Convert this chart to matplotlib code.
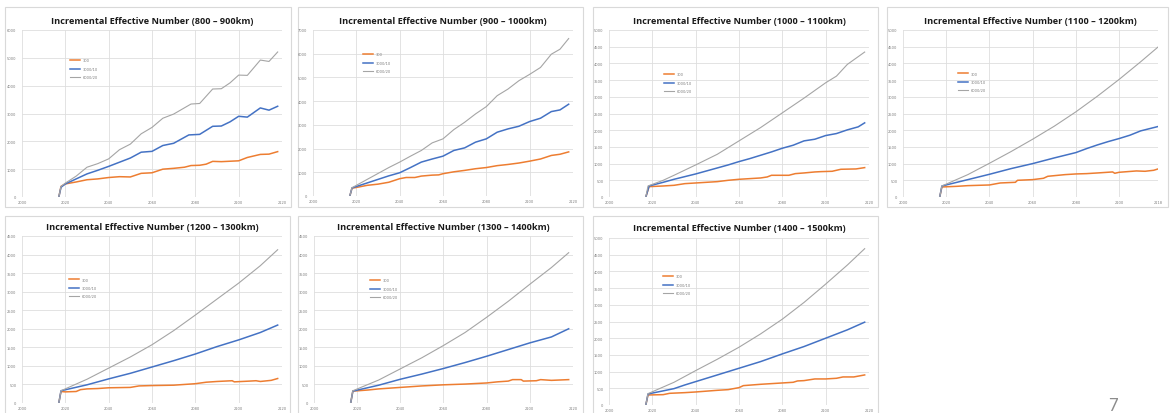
import matplotlib
matplotlib.use("Agg")
import matplotlib.pyplot as plt
from matplotlib.patches import Rectangle

W, H = 1172, 414

series_labels = ["300", "3000/10", "6000/20"]
colors = ["#ED7D31", "#4472C4", "#A5A5A5"]
widths = [1.1, 1.1, 0.8]

# (year, value) pairs
p1_300 = [(2017, 0), (2018, 380), (2020, 470), (2025, 540), (2030, 620), (2035, 650), (2040, 700), (2045, 730),
          (2050, 720), (2055, 850), (2060, 870), (2065, 1000), (2070, 1030), (2075, 1070), (2078, 1130), (2082, 1140),
          (2085, 1180), (2088, 1280), (2092, 1270), (2100, 1300), (2104, 1420), (2110, 1530), (2114, 1540), (2118, 1630)]
p1_3000 = [(2017, 0), (2018, 350), (2020, 470), (2025, 650), (2030, 830), (2035, 960), (2040, 1100), (2045, 1250),
           (2050, 1400), (2055, 1610), (2060, 1640), (2065, 1850), (2070, 1930), (2077, 2230), (2082, 2250),
           (2088, 2540), (2092, 2550), (2096, 2700), (2100, 2900), (2104, 2870), (2110, 3200), (2114, 3120), (2118, 3260)]
p1_6000 = [(2017, 0), (2018, 380), (2020, 500), (2025, 750), (2030, 1070), (2035, 1200), (2040, 1370), (2045, 1700),
           (2050, 1900), (2055, 2270), (2060, 2500), (2065, 2830), (2070, 2980), (2078, 3340), (2082, 3360),
           (2088, 3880), (2092, 3890), (2096, 4100), (2100, 4380), (2104, 4370), (2110, 4920), (2114, 4870), (2118, 5210)]

p2_300 = [(2017, 0), (2018, 330), (2020, 360), (2025, 450), (2030, 500), (2035, 580), (2040, 730), (2043, 780),
          (2047, 780), (2050, 840), (2055, 880), (2058, 890), (2060, 940), (2065, 1020), (2070, 1080), (2075, 1150),
          (2080, 1200), (2085, 1280), (2090, 1330), (2095, 1390), (2100, 1470), (2105, 1560), (2110, 1710),
          (2114, 1760), (2118, 1860)]
p2_3000 = [(2017, 0), (2018, 340), (2020, 400), (2025, 550), (2030, 700), (2035, 850), (2040, 980), (2045, 1200),
           (2050, 1430), (2055, 1560), (2060, 1680), (2065, 1920), (2070, 2030), (2075, 2270), (2080, 2410),
           (2085, 2690), (2090, 2830), (2095, 2940), (2100, 3140), (2105, 3280), (2110, 3560), (2114, 3630), (2118, 3870)]
p2_6000 = [(2017, 0), (2018, 350), (2020, 450), (2025, 700), (2030, 950), (2035, 1200), (2040, 1430), (2045, 1680),
           (2050, 1920), (2055, 2240), (2060, 2410), (2065, 2800), (2070, 3110), (2075, 3460), (2080, 3770),
           (2085, 4230), (2090, 4510), (2095, 4860), (2100, 5130), (2105, 5420), (2110, 5980), (2114, 6190), (2118, 6640)]

p3_300 = [(2017, 0), (2018.5, 310), (2025, 330), (2030, 350), (2035, 400), (2040, 420), (2045, 440), (2050, 460),
          (2055, 500), (2060, 530), (2065, 550), (2070, 570), (2073, 600), (2075, 650), (2083, 650), (2086, 700),
          (2090, 720), (2095, 750), (2098, 760), (2103, 770), (2107, 830), (2114, 840), (2118, 880)]
p3_3000 = [(2017, 0), (2018.5, 330), (2025, 440), (2030, 530), (2035, 610), (2040, 690), (2045, 780), (2050, 870),
           (2055, 960), (2060, 1060), (2065, 1150), (2070, 1250), (2075, 1350), (2080, 1460), (2085, 1550),
           (2090, 1680), (2095, 1730), (2100, 1840), (2105, 1900), (2110, 2010), (2115, 2100), (2118, 2220)]
p3_6000 = [(2017, 0), (2018, 330), (2025, 500), (2030, 650), (2040, 960), (2050, 1280), (2060, 1680), (2070, 2080),
           (2080, 2520), (2090, 2960), (2100, 3420), (2105, 3620), (2110, 3970), (2118, 4340)]

p4_300 = [(2017, 0), (2018, 300), (2025, 320), (2030, 340), (2040, 360), (2045, 420), (2052, 440), (2053, 500),
          (2060, 520), (2065, 560), (2067, 620), (2075, 670), (2080, 690), (2085, 700), (2090, 720), (2097, 750),
          (2098, 710), (2100, 740), (2108, 780), (2112, 770), (2116, 800), (2118, 840)]
p4_3000 = [(2017, 0), (2018, 330), (2030, 520), (2040, 680), (2050, 850), (2060, 1000), (2070, 1170), (2080, 1330),
           (2085, 1450), (2090, 1560), (2095, 1660), (2100, 1750), (2105, 1850), (2110, 1980), (2118, 2110)]
p4_6000 = [(2017, 0), (2018, 330), (2030, 670), (2040, 1010), (2050, 1360), (2060, 1730), (2070, 2120), (2080, 2550),
           (2090, 3020), (2100, 3520), (2110, 4050), (2118, 4490)]

p5_300 = [(2017, 0), (2018, 310), (2020, 300), (2025, 310), (2027, 360), (2030, 380), (2035, 390), (2040, 410),
          (2050, 420), (2054, 460), (2060, 470), (2070, 480), (2075, 500), (2080, 520), (2085, 560), (2090, 580),
          (2097, 600), (2098, 570), (2105, 590), (2108, 600), (2110, 580), (2115, 610), (2118, 660)]
p5_3000 = [(2017, 0), (2018, 330), (2030, 490), (2040, 650), (2050, 800), (2060, 970), (2070, 1140), (2080, 1320),
           (2090, 1520), (2100, 1700), (2110, 1900), (2118, 2100)]
p5_6000 = [(2017, 0), (2018, 330), (2030, 640), (2040, 940), (2050, 1240), (2060, 1570), (2070, 1950), (2080, 2370),
           (2090, 2800), (2100, 3230), (2110, 3700), (2118, 4130)]

p6_300 = [(2017, 0), (2018, 320), (2025, 350), (2030, 380), (2040, 420), (2050, 460), (2060, 490), (2070, 510),
          (2080, 540), (2085, 570), (2090, 590), (2092, 630), (2096, 630), (2097, 590), (2103, 600), (2105, 630),
          (2110, 610), (2118, 630)]
p6_3000 = [(2017, 0), (2018, 320), (2030, 480), (2040, 640), (2050, 780), (2060, 930), (2070, 1090), (2080, 1260),
           (2090, 1440), (2100, 1620), (2110, 1780), (2118, 2000)]
p6_6000 = [(2017, 0), (2018, 330), (2030, 620), (2040, 920), (2050, 1220), (2060, 1550), (2070, 1900), (2080, 2310),
           (2090, 2740), (2100, 3200), (2110, 3650), (2118, 4050)]

p7_300 = [(2017, 0), (2018, 300), (2025, 310), (2028, 350), (2035, 370), (2040, 390), (2050, 440), (2055, 460),
          (2060, 520), (2062, 580), (2070, 620), (2080, 660), (2085, 680), (2087, 720), (2090, 730), (2095, 780),
          (2100, 780), (2105, 800), (2108, 840), (2113, 840), (2118, 900)]
p7_3000 = [(2017, 0), (2018, 330), (2030, 490), (2035, 600), (2040, 700), (2050, 900), (2060, 1100), (2070, 1300),
           (2080, 1530), (2090, 1750), (2100, 2000), (2110, 2250), (2118, 2480)]
p7_6000 = [(2017, 0), (2018, 340), (2030, 680), (2040, 1030), (2050, 1370), (2060, 1730), (2070, 2130), (2080, 2570),
           (2090, 3070), (2100, 3620), (2110, 4190), (2118, 4680)]

titles = ["800 – 900km", "900 – 1000km", "1000 – 1100km", "1100 – 1200km",
          "1200 – 1300km", "1300 – 1400km", "1400 – 1500km"]
y_max = [6000, 7000, 5000, 5000, 4500, 4500, 5000]
y_step = [1000, 1000, 500, 500, 500, 500, 500]
x_max = [2120, 2120, 2120, 2118, 2120, 2120, 2120]
panel_data = [(p1_300, p1_3000, p1_6000), (p2_300, p2_3000, p2_6000), (p3_300, p3_3000, p3_6000),
              (p4_300, p4_3000, p4_6000), (p5_300, p5_3000, p5_6000), (p6_300, p6_3000, p6_6000),
              (p7_300, p7_3000, p7_6000)]

# layout in pixels: panel box, plot area (left, top, right, bottom), title y, legend anchor
boxes = [(5, 8, 291, 208), (298, 8, 583, 208), (593, 8, 878, 208), (887, 8, 1168, 208),
         (5, 217, 290, 420), (298, 217, 583, 420), (593, 217, 878, 420)]
plots = [(22, 31, 282, 198), (313, 31, 573, 197), (609, 31, 869, 198), (903, 31, 1158, 198),
         (22, 237, 282, 404), (314, 237, 573, 404), (609, 239, 869, 406)]
title_y = [21.5, 21.5, 21.5, 21.5, 227.5, 227.5, 229]
legend_at = [(70, 62), (363, 56), (664, 76), (958, 75), (69, 281), (370, 282), (663, 278)]

fig = plt.figure(figsize=(W / 100, H / 100), dpi=100)
fig.patch.set_facecolor("white")

for i in range(7):
    x0, y0, x1, y1 = boxes[i]
    fig.add_artist(Rectangle((x0 / W, 1 - y1 / H), (x1 - x0) / W, (y1 - y0) / H, zorder=-10,
                             transform=fig.transFigure, facecolor="white", edgecolor="#D9D9D9", lw=0.8))

    l, t, r, b = plots[i]
    ax = fig.add_axes([l / W, 1 - b / H, (r - l) / W, (b - t) / H])
    ax.set_facecolor("none")
    for s in ax.spines.values():
        s.set_visible(False)

    for pts, lab, c, lw in zip(panel_data[i], series_labels, colors, widths):
        xs = [p[0] for p in pts]
        ys = [p[1] for p in pts]
        ax.plot(xs, ys, color=c, lw=lw, label=lab, solid_joinstyle="round")

    ax.set_xlim(2000, x_max[i])
    ax.set_ylim(0, y_max[i])
    xt = list(range(2000, 2121, 20))
    if x_max[i] != 2120:
        xt = list(range(2000, 2101, 20)) + [x_max[i]]
    ax.set_xticks(xt)
    ax.set_yticks(range(0, y_max[i] + 1, y_step[i]))
    ax.grid(True, color="#DEDEDE", lw=0.6)
    ax.set_axisbelow(True)
    ax.tick_params(length=0, labelsize=2.6, labelcolor="#7F7F7F")
    ax.tick_params(axis="y", pad=4)
    ax.tick_params(axis="x", pad=2)

    fig.text((l + r) / 2 / W, 1 - title_y[i] / H, "Incremental Effective Number (" + titles[i] + ")",
             ha="center", va="center", fontsize=6.6, fontweight="bold", family=["Open Sans", "DejaVu Sans"],
             color="#1A1A1A")

    lx, ly = legend_at[i]
    ax.legend(loc="upper left", bbox_to_anchor=(lx / W, 1 - (ly - 2.5) / H), bbox_transform=fig.transFigure,
              frameon=False, borderpad=0, borderaxespad=0, fontsize=2.6, handlelength=2.8,
              handletextpad=0.6, labelspacing=1.2, labelcolor="#7F7F7F")

fig.text(1108 / W, 1 - 398 / H, "7", ha="left", va="top", fontsize=12, color="#8C8C8C",
         family=["Lato", "DejaVu Sans"])

fig.savefig("out.png", dpi=100, facecolor="white")
